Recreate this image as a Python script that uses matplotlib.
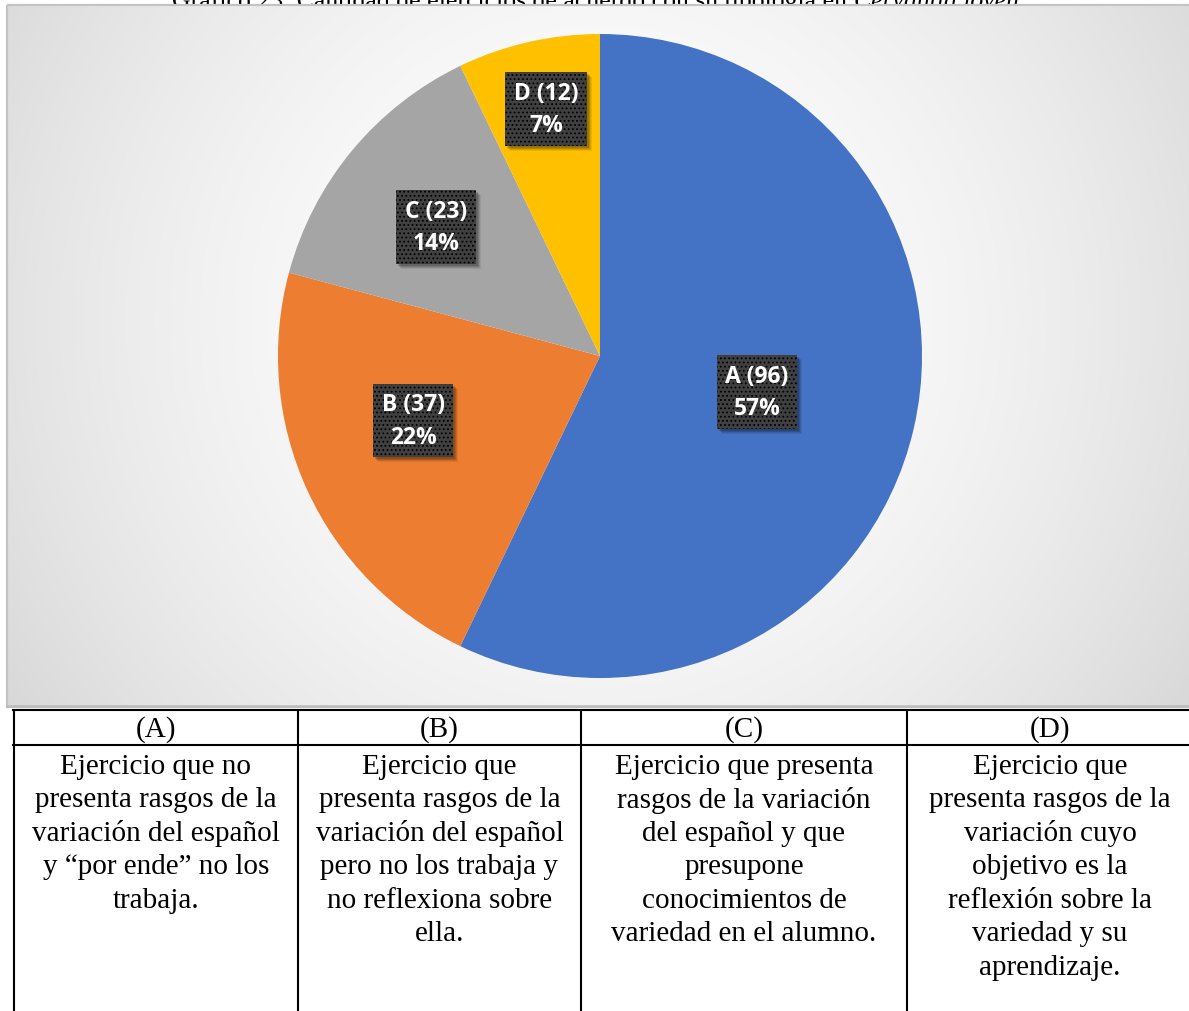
import numpy as np
import matplotlib
matplotlib.use("Agg")
import matplotlib.pyplot as plt
from matplotlib.patches import Rectangle
from matplotlib.transforms import IdentityTransform

# ---- data ----
categories = ["A", "B", "C", "D"]
counts = [96, 37, 23, 12]
colors = ["#4472C4", "#ED7D31", "#A5A5A5", "#FFC000"]

title_plain = "Gráfico 23: Cantidad de ejercicios de acuerdo con su tipología en "
title_italic = "Cervantia joven."

table_headers = ["(A)", "(B)", "(C)", "(D)"]
table_texts = [
    ["Ejercicio que no", "presenta rasgos de la", "variación del español",
     "y \u201cpor ende\u201d no los", "trabaja."],
    ["Ejercicio que", "presenta rasgos de la", "variación del español",
     "pero no los trabaja y", "no reflexiona sobre", "ella."],
    ["Ejercicio que presenta", "rasgos de la variación", "del español y que",
     "presupone", "conocimientos de", "variedad en el alumno."],
    ["Ejercicio que", "presenta rasgos de la", "variación cuyo",
     "objetivo es la", "reflexión sobre la", "variedad y su", "aprendizaje."],
]

# label placement: (radial fraction, angular shift in degrees from slice middle)
label_polar = [(0.50, 0.0), (0.614, -5.6), (0.648, 1.4), (0.785, -0.6)]

W, H, DPI = 1189, 1012, 100
fig = plt.figure(figsize=(W / DPI, H / DPI), dpi=DPI)
fig.patch.set_facecolor("white")

# full-figure canvas in pixel units (y downward)
bg = fig.add_axes([0, 0, 1, 1])
bg.set_xlim(0, W)
bg.set_ylim(H, 0)
bg.axis("off")

# caption, mostly hidden behind the chart area
serif = "Liberation Serif"
t1 = bg.text(172, 8, title_plain, fontsize=18.5, family=serif, va="baseline",
             ha="left", color="black", zorder=0.5)
fig.canvas.draw()
bb = t1.get_window_extent()
x_end = bb.x1 * W / fig.bbox.width
bg.text(x_end, 8, title_italic, fontsize=18.5, family=serif, style="italic",
        va="baseline", ha="left", color="black", zorder=0.5)

# chart area with soft radial gradient
cx0, cy0, cx1, cy1 = 7, 6, W + 5, 708
yy, xx = np.mgrid[cy0:cy1, cx0:cx1]
d = np.hypot(xx - 600, (yy - 320)) / 700.0
g = 1.0 - 0.15 * np.clip(d, 0, 1.1) ** 1.8
img = np.dstack([g, g, g])
bg.imshow(img, extent=(cx0, cx1, cy1, cy0), aspect="auto", zorder=1,
          interpolation="bilinear")
bg.add_patch(Rectangle((cx0, cy0), cx1 - cx0, cy1 - cy0, fill=False,
                       ec="#c4c4c4", lw=1.6, zorder=2))
bg.plot([cx0, cx1], [cy1 - 1, cy1 - 1], color="#bdbdbd", lw=1.8, zorder=2)

# pie
pcx, pcy, R = 600, 357, 322
pie_ax = fig.add_axes([(pcx - R) / W, (H - pcy - R) / H, 2 * R / W, 2 * R / H])
pie_ax.patch.set_alpha(0)
wedges, _ = pie_ax.pie(counts, colors=colors, startangle=90,
                       counterclock=False, radius=1.0,
                       wedgeprops=dict(linewidth=0))
pie_ax.set_xlim(-1, 1)
pie_ax.set_ylim(-1, 1)
pie_ax.set_aspect("auto")
pie_ax.axis("off")

plt.rcParams["hatch.color"] = "#535353"
plt.rcParams["hatch.linewidth"] = 0.8
total = sum(counts)
labels = []
for w, cat, n, (rf, dth) in zip(wedges, categories, counts, label_polar):
    mid = np.deg2rad((w.theta1 + w.theta2) / 2 + dth)
    x, y = rf * np.cos(mid), rf * np.sin(mid)
    txt = f"{cat} ({n})\n{round(100 * n / total)}%"
    t = pie_ax.text(x, y, txt, color="white", zorder=5, ha="center",
                    va="center", fontsize=16.5, fontweight="bold",
                    family="Open Sans", linespacing=1.45,
                    bbox=dict(boxstyle="square,pad=0.38", fc="#404040",
                              hatch="....", lw=0))
    labels.append(t)

# soft drop shadows behind the label boxes (display coordinates)
fig.canvas.draw()
for t in labels:
    ext = t.get_bbox_patch().get_window_extent()
    for k, a in ((5, 0.07), (4, 0.10), (3, 0.13), (2, 0.16)):
        pie_ax.add_patch(Rectangle((ext.x0 + k, ext.y0 - k), ext.width,
                                   ext.height, fc=(0, 0, 0, a), ec="none",
                                   transform=IdentityTransform(), zorder=4))

# table below the chart
col_x = [14, 298, 581, 907, W + 10]
top, head_bot = 711, 746
lw = 1.5
for x in col_x:
    bg.plot([x, x], [top, H + 5], color="black", lw=lw, zorder=3,
            solid_capstyle="butt")
for y in (top, head_bot):
    bg.plot([col_x[0] - 1, W + 10], [y, y], color="black", lw=lw, zorder=3)

centers = [(col_x[i] + col_x[i + 1]) / 2 for i in range(4)]
centers[3] = (907 + 1189) / 2 + 2
for i, (hdr, lines) in enumerate(zip(table_headers, table_texts)):
    bg.text(centers[i], 730, hdr, ha="center", va="center", fontsize=21,
            family=serif, zorder=4)
    for j, line in enumerate(lines):
        bg.text(centers[i], 767 + j * 33.5, line, ha="center", va="center",
                fontsize=21, family=serif, zorder=4)

fig.savefig("out.png", dpi=DPI)
